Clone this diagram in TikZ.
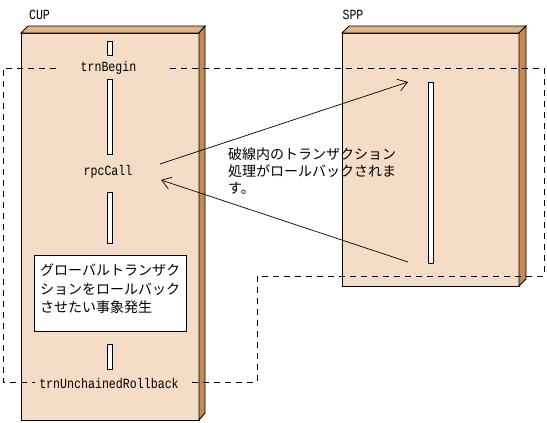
\documentclass[tikz,border=0pt]{standalone}
\usepackage{fontspec}
\setmonofont[FakeStretch=0.83]{Liberation Mono}
\newfontfamily\jpfont{Noto Sans CJK JP}
\usepackage{tikz}
\usetikzlibrary{arrows.meta,calc,positioning}
\definecolor{boxfront}{RGB}{244,220,198}
\definecolor{boxtop}{RGB}{222,178,135}
\definecolor{boxside}{RGB}{196,138,85}

\begin{document}
\begin{tikzpicture}[x=1pt,y=-1pt,
    lbl/.style={font=\ttfamily\fontsize{14}{16}\selectfont, inner sep=1pt},
    actbar/.style={draw,fill=white,line width=0.8pt,minimum width=5pt,inner sep=0pt,anchor=north},
    boundary/.style={dashed,line width=0.7pt,dash pattern=on 6pt off 5pt},
    msg/.style={line width=0.7pt,-{Straight Barb[length=9pt,width=12pt]}},
    jptext/.style={font=\jpfont\fontsize{14}{17}\selectfont,align=left,inner sep=0pt}]
  \useasboundingbox (0,0) rectangle (547,423);
  % the two lifeline boxes
  \draw[fill=boxfront,line width=0.9pt] (21,33) rectangle (199,420);
  \draw[fill=boxtop,line width=0.9pt] (21,33) -- (28,26) -- (205,26) -- (199,33) -- cycle;
  \draw[fill=boxside,line width=0.9pt] (199,33) -- (205,26) -- (205,413) -- (199,420) -- cycle;
  \draw[fill=boxfront,line width=0.9pt] (342,33) rectangle (519,286);
  \draw[fill=boxtop,line width=0.9pt] (342,33) -- (349,26) -- (526,26) -- (519,33) -- cycle;
  \draw[fill=boxside,line width=0.9pt] (519,33) -- (526,26) -- (526,279) -- (519,286) -- cycle;
  \node[lbl] (cup) at (39.5,15) {CUP};
  \node[lbl] (spp) at (353,15) {SPP};
  % rolled back region
  \draw[boundary] (56,68) -| (3,382) -- (35,382);
  \draw[boundary] (170,68) -| (544,276) -| (257,382) -- (190,382);
  % activations
  \node[actbar,minimum height=14pt] (bar1) at (109.5,41) {};
  \node[lbl] (trnBegin) at (108.5,68) {trnBegin};
  \node[actbar,minimum height=75pt] (bar2) at (109.5,79) {};
  \node[lbl] (rpcCall) at (108,172) {rpcCall};
  \node[actbar,minimum height=51pt] (bar3) at (109.5,192) {};
  \node[draw,fill=white,line width=0.9pt,minimum width=152pt,minimum height=76pt,anchor=north west] (event) at (34,255) {};
  \node[jptext,font=\jpfont\fontsize{14}{18.5}\selectfont,anchor=north west] (eventtxt) at (40,264) {グローバルトランザク\\ションをロールバック\\させたい事象発生};
  \node[actbar,minimum height=25pt] (bar4) at (109.5,344) {};
  \node[lbl] (rollback) at (109,384) {trnUnchainedRollback};
  \node[actbar,minimum height=181pt] (sppbar) at (430.5,82) {};
  % messages
  \coordinate (callfrom) at (160,164);
  \coordinate (callto) at (408,82);
  \coordinate (retfrom) at (408,262);
  \coordinate (retto) at (161,180);
  \draw[msg] (callfrom) -- (callto);
  \draw[msg] (retfrom) -- (retto);
  \node[jptext,anchor=north west] (note) at (228,148) {破線内のトランザクション\\処理がロールバックされま\\す。};
\end{tikzpicture}
\end{document}
